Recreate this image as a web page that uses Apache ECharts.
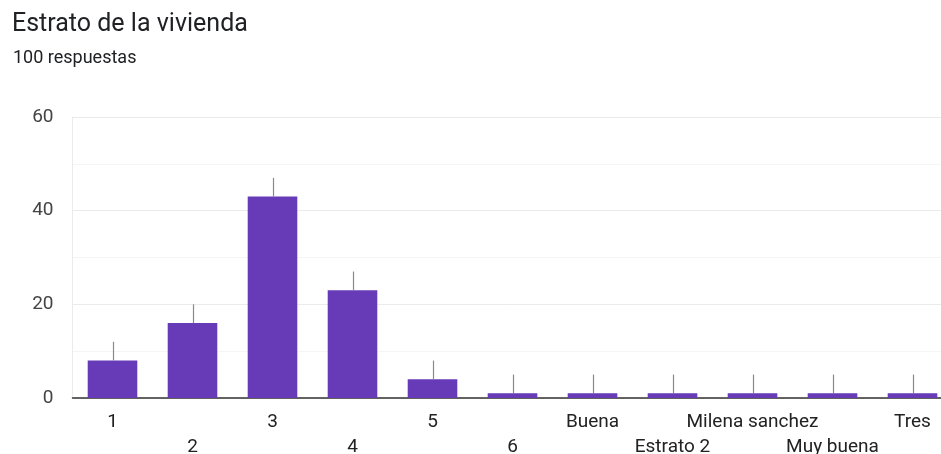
<!DOCTYPE html>
<html>
<head>
<meta charset="utf-8">
<script src="https://cdn.jsdelivr.net/npm/echarts@6/dist/echarts.min.js"></script>
<style>
html,body{margin:0;padding:0;background:#fff;}
#chart{width:941px;height:454px;}
</style>
</head>
<body>
<div id="chart"></div>
<script>
const categories = ['1','2','3','4','5','6','Buena','Estrato 2','Milena sanchez','Muy buena','Tres'];
const counts = [8,16,43,23,4,1,1,1,1,1,1];
const errorPlus = [4,4,4,4,4,4,4,4,4,4,4];
const yTicks = [0,20,40,60];

const chart = echarts.init(document.getElementById('chart'), null, {renderer:'canvas'});
const font = 'Roboto, "Noto Sans", sans-serif';
chart.setOption({
  animation:false,
  title:[
    {text:'Estrato de la vivienda', left:7, top:7, textStyle:{fontFamily:font, fontSize:25, fontWeight:'normal', color:'#202124'}},
    {text:'100 respuestas', left:8, top:44, textStyle:{fontFamily:font, fontSize:18, fontWeight:'normal', color:'#202124'}}
  ],
  grid:{left:72.5, width:880, top:117, height:281, outerBoundsMode:'none', containLabel:false},
  xAxis:{
    type:'category', data:categories,
    axisTick:{show:false},
    axisLine:{lineStyle:{color:'#333', width:1.5}},
    axisLabel:{
      interval:0, margin:12, fontFamily:font, fontSize:19, color:'#222', lineHeight:25,
      formatter:(v, i)=> (i % 2 === 1 ? '\n' + v : v)
    }
  },
  yAxis:{
    type:'value', min:yTicks[0], max:yTicks[yTicks.length-1], interval:20,
    axisLine:{show:true, lineStyle:{color:'#ebebeb', width:1}},
    axisTick:{show:false},
    axisLabel:{margin:19, fontFamily:font, fontSize:19, color:'#444'},
    splitLine:{lineStyle:{color:'#ebebeb', width:1}},
    minorTick:{show:false, splitNumber:2},
    minorSplitLine:{show:true, lineStyle:{color:'#f5f5f5', width:1}}
  },
  series:[
    {type:'bar', data:counts, barWidth:'62%', itemStyle:{color:'#673ab7'}, z:2},
    {type:'custom', z:3,
      data:counts.map((v,i)=>[i, v, v + errorPlus[i]]),
      renderItem:(params, api)=>{
        const p1 = api.coord([api.value(0), api.value(1)]);
        const p2 = api.coord([api.value(0), api.value(2)]);
        return {type:'line', shape:{x1:Math.round(p1[0])+0.5, y1:p1[1], x2:Math.round(p2[0])+0.5, y2:p2[1]}, style:{stroke:'#8a8a8a', lineWidth:1.2}};
      }
    }
  ]
});
</script>
</body>
</html>
